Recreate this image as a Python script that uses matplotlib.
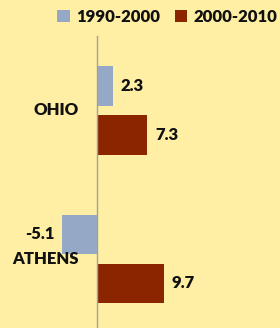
import numpy as np
import matplotlib
matplotlib.use('Agg')
import matplotlib.pyplot as plt

plt.rcParams["font.family"] = ["Lato", "DejaVu Sans"]

places = ['OHIO', 'ATHENS']
series = ['1990-2000', '2000-2010']
v_1990 = [2.3, -5.1]
v_2000 = [7.3, 9.7]
colors = ['#95A9C6', '#8B2500']
bg = '#FEEFA5'

fig = plt.figure(figsize=(2.8, 3.28), dpi=100)
fig.patch.set_facecolor(bg)
ax = fig.add_axes([0, 0, 1, 1])
ax.set_facecolor(bg)

y = np.arange(len(places))
h = 0.265
off = 0.165
b1 = ax.barh(y - off, v_1990, height=h, color=colors[0], label=series[0])
b2 = ax.barh(y + off, v_2000, height=h, color=colors[1], label=series[1])

ax.set_xlim(-14.06, 26.52)
ax.set_ylim(1.465, -0.744)
ax.axis('off')
ax.plot([0, 0], [-0.5, 1.465], color='#A0A0A0', lw=1.0, zorder=3)

fs = 12
wt = 'heavy'
for vals, yy in ((v_1990, y - off), (v_2000, y + off)):
    for v, yc in zip(vals, yy):
        if v >= 0:
            ax.text(v + 1.1, yc, f'{v:.1f}', ha='left', va='center', fontsize=fs, fontweight=wt, color='#111111')
        else:
            ax.text(v - 1.1, yc, f'{v:.1f}', ha='right', va='center', fontsize=fs, fontweight=wt, color='#111111')

for name, yc in zip(places, y):
    ax.text(-2.6, yc, name, ha='right', va='center', fontsize=fs, fontweight=wt, color='#111111')

leg = ax.legend(ncol=2, loc='center right', bbox_to_anchor=(1.045, 1 - 17 / 328), frameon=False,
                handlelength=0.75, handleheight=0.75, handletextpad=0.4, columnspacing=0.85,
                prop={'weight': wt, 'size': 12})
for t in leg.get_texts():
    t.set_color('#111111')

plt.savefig('out.png', dpi=100, facecolor=bg)
